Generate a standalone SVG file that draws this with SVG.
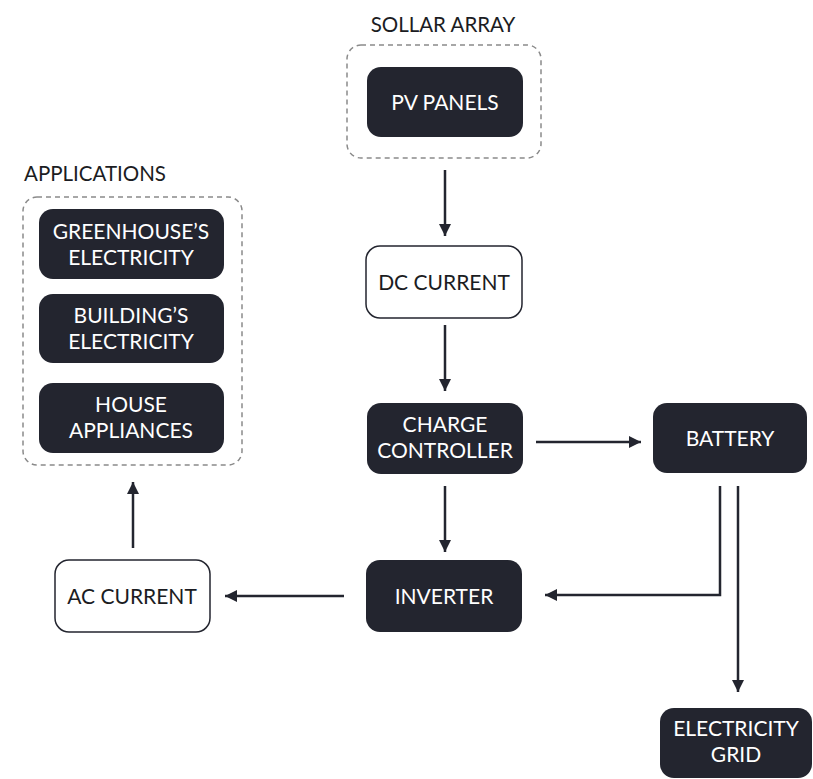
<svg xmlns="http://www.w3.org/2000/svg" width="813" height="779" viewBox="0 0 813 779">
  <style>
    .dark { fill: #23252f; }
    .light { fill: #ffffff; stroke: #23252f; stroke-width: 1.5; }
    .group { fill: none; stroke: #8a8a8a; stroke-width: 1.5; stroke-dasharray: 5 4; }
    .lbl { font-family: Lato, "Open Sans", sans-serif; font-size: 21px; text-anchor: middle; }
    .w { fill: #ffffff; }
    .k { fill: #1b1c22; }
    .title { font-family: Lato, "Open Sans", sans-serif; font-size: 20.5px; fill: #1b1c22; }
    .edge { fill: none; stroke: #23252f; stroke-width: 2.5; }
  </style>
  <defs>
    <marker id="arrow" viewBox="0 0 10 10" refX="10" refY="5" markerWidth="4.8" markerHeight="4.8" orient="auto" markerUnits="strokeWidth">
      <path d="M0,0 L10,5 L0,10 Z" fill="#23252f"/>
    </marker>
  </defs>
  <rect width="813" height="779" fill="#ffffff"/>

  <!-- solar array group -->
  <g id="solar-array">
    <text class="title" x="443" y="32" text-anchor="middle">SOLLAR ARRAY</text>
    <rect class="group" x="347" y="45" width="194" height="113" rx="14"/>
  </g>
  <g id="pv-panels">
    <rect class="dark" x="367" y="67" width="156" height="70" rx="14"/>
    <text class="lbl w" x="445" y="110">PV PANELS</text>
  </g>

  <g id="dc-current">
    <rect class="light" x="366" y="246" width="156" height="72" rx="14"/>
    <text class="lbl k" x="444" y="290">DC CURRENT</text>
  </g>

  <g id="charge-controller">
    <rect class="dark" x="367" y="403" width="156" height="71" rx="14"/>
    <text class="lbl w" x="445" y="432">CHARGE</text>
    <text class="lbl w" x="445" y="458">CONTROLLER</text>
  </g>

  <g id="battery">
    <rect class="dark" x="653" y="403" width="154" height="70" rx="14"/>
    <text class="lbl w" x="730" y="446">BATTERY</text>
  </g>

  <g id="inverter">
    <rect class="dark" x="366" y="560" width="156" height="72" rx="14"/>
    <text class="lbl w" x="444" y="604">INVERTER</text>
  </g>

  <g id="ac-current">
    <rect class="light" x="55" y="560" width="155" height="72" rx="14"/>
    <text class="lbl k" x="132" y="604">AC CURRENT</text>
  </g>

  <g id="electricity-grid">
    <rect class="dark" x="660" y="708" width="152" height="70" rx="14"/>
    <text class="lbl w" x="736" y="736">ELECTRICITY</text>
    <text class="lbl w" x="736" y="762">GRID</text>
  </g>

  <!-- applications group -->
  <g id="applications">
    <text class="title" x="24" y="181">APPLICATIONS</text>
    <rect class="group" x="23" y="197" width="219" height="268" rx="14"/>
  </g>
  <g id="greenhouse">
    <rect class="dark" x="39" y="209" width="185" height="70" rx="14"/>
    <text class="lbl w" x="131" y="239">GREENHOUSE’S</text>
    <text class="lbl w" x="131" y="265">ELECTRICITY</text>
  </g>
  <g id="building">
    <rect class="dark" x="39" y="294" width="185" height="69" rx="14"/>
    <text class="lbl w" x="131" y="323">BUILDING’S</text>
    <text class="lbl w" x="131" y="349">ELECTRICITY</text>
  </g>
  <g id="house">
    <rect class="dark" x="39" y="383" width="185" height="70" rx="14"/>
    <text class="lbl w" x="131" y="412">HOUSE</text>
    <text class="lbl w" x="131" y="438">APPLIANCES</text>
  </g>

  <!-- connectors -->
  <g id="connectors">
    <path class="edge" d="M445,170 V236" marker-end="url(#arrow)"/>
    <path class="edge" d="M445,325 V391" marker-end="url(#arrow)"/>
    <path class="edge" d="M536,442 H641" marker-end="url(#arrow)"/>
    <path class="edge" d="M445,486 V552" marker-end="url(#arrow)"/>
    <path class="edge" d="M720,486 V595 H545" marker-end="url(#arrow)"/>
    <path class="edge" d="M738,486 V692" marker-end="url(#arrow)"/>
    <path class="edge" d="M344,596 H225" marker-end="url(#arrow)"/>
    <path class="edge" d="M133,548 V482" marker-end="url(#arrow)"/>
  </g>
</svg>
